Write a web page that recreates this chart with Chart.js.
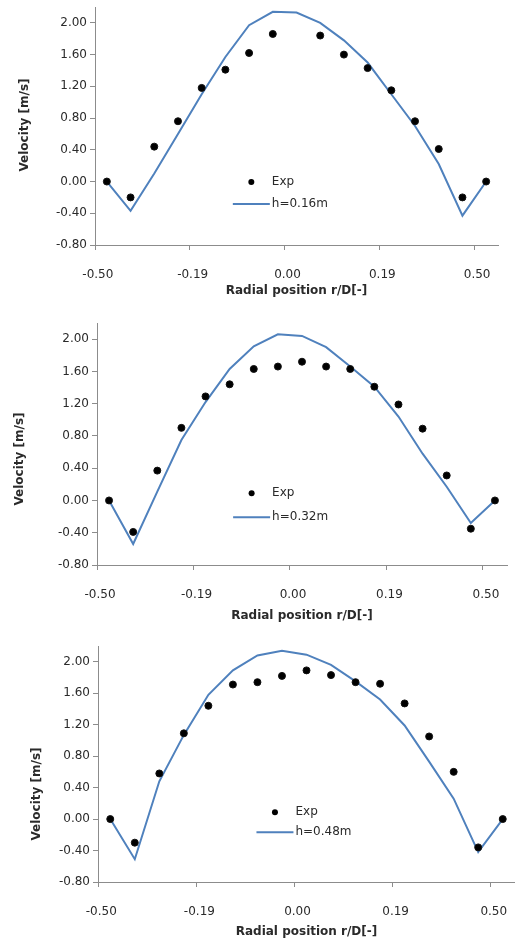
<!DOCTYPE html>
<html>
<head>
<meta charset="utf-8">
<script src="https://cdn.jsdelivr.net/npm/chart.js@4.4.0/dist/chart.umd.min.js"></script>
<style>
  html, body { margin: 0; padding: 0; background: #fff; overflow: hidden; }
  .panel { position: absolute; left: 0; width: 515px; }
</style>
</head>
<body>
<div class="panel" style="top:0;height:310px"><canvas id="c1"></canvas></div>
<div class="panel" style="top:310px;height:320px"><canvas id="c2"></canvas></div>
<div class="panel" style="top:630px;height:313px"><canvas id="c3"></canvas></div>
<script>
// categories (only every 4th one is labelled on the original axis)
var radialLabels = ['-0.50', '', '', '', '-0.19', '', '', '', '0.00', '', '', '', '0.19', '', '', '', '0.50'];
var velocityTicks = [-0.8, -0.4, 0, 0.4, 0.8, 1.2, 1.6, 2.0];

// h = 0.16m
var exp016 = [0.00, -0.20, 0.44, 0.76, 1.18, 1.41, 1.62, 1.86, null, 1.84, 1.60, 1.43, 1.15, 0.76, 0.41, -0.20, 0.00];
var sim016 = [0.00, -0.37, 0.10, 0.60, 1.10, 1.57, 1.97, 2.14, 2.13, 2.00, 1.78, 1.50, 1.10, 0.70, 0.22, -0.43, 0.00];
// h = 0.32m
var exp032 = [0.00, -0.39, 0.37, 0.90, 1.29, 1.44, 1.63, 1.66, 1.72, 1.66, 1.63, 1.41, 1.19, 0.89, 0.31, -0.35, 0.00];
var sim032 = [0.00, -0.54, 0.11, 0.75, 1.22, 1.63, 1.91, 2.06, 2.04, 1.90, 1.66, 1.41, 1.04, 0.58, 0.17, -0.28, 0.00];
// h = 0.48m
var exp048 = [0.00, -0.30, 0.58, 1.09, 1.44, 1.71, 1.74, 1.82, 1.89, 1.83, 1.74, 1.72, 1.47, 1.05, 0.60, -0.36, 0.00];
var sim048 = [0.00, -0.51, 0.48, 1.07, 1.58, 1.89, 2.08, 2.14, 2.09, 1.96, 1.75, 1.52, 1.19, 0.73, 0.26, -0.42, 0.00];

var FONT = '"DejaVu Sans", Verdana, sans-serif';
var axisGray = '#8c8c8c';
var textColor = '#2a2a2a';
var lineBlue = '#4F81BD';

// legend drawn inside the plot area, like the excel one
var insideLegend = {
  id: 'insideLegend',
  afterDraw: function (chart, args, opts) {
    var ctx = chart.ctx, a = chart.chartArea;
    var x0 = a.left + opts.x * (a.right - a.left);
    var y = a.top + opts.y * (a.bottom - a.top);
    ctx.save();
    ctx.font = '12px ' + FONT;
    ctx.textBaseline = 'middle';
    chart.data.datasets.forEach(function (ds) {
      if (ds.showLine === false) {
        ctx.beginPath();
        ctx.arc(x0 + opts.w / 2, y, 3, 0, Math.PI * 2);
        ctx.fillStyle = ds.pointBackgroundColor;
        ctx.fill();
      } else {
        ctx.beginPath();
        ctx.moveTo(x0, y);
        ctx.lineTo(x0 + opts.w, y);
        ctx.strokeStyle = ds.borderColor;
        ctx.lineWidth = ds.borderWidth;
        ctx.stroke();
      }
      ctx.fillStyle = textColor;
      ctx.fillText(ds.label, x0 + opts.w + 2, y);
      y += opts.gap;
    });
    ctx.restore();
  }
};

// vertical axis title, excel puts it a bit off-centre on the lower panels
var yTitle = {
  id: 'yTitle',
  afterDraw: function (chart, args, opts) {
    var ctx = chart.ctx, a = chart.chartArea;
    ctx.save();
    ctx.translate(opts.x, (a.top + a.bottom) / 2 + opts.dy);
    ctx.rotate(-Math.PI / 2);
    ctx.font = 'bold 12px ' + FONT;
    ctx.fillStyle = textColor;
    ctx.textAlign = 'center';
    ctx.textBaseline = 'middle';
    ctx.fillText(opts.text, 0, 0);
    ctx.restore();
  }
};

function makeChart(id, expData, simData, simName, L) {
  return new Chart(document.getElementById(id), {
    type: 'line',
    plugins: [insideLegend, yTitle],
    data: {
      labels: radialLabels,
      datasets: [{
        label: 'Exp',
        data: expData,
        showLine: false,
        pointRadius: 3.5,
        pointBackgroundColor: '#000',
        pointBorderColor: '#111',
        pointBorderWidth: 1
      }, {
        label: simName,
        data: simData,
        borderColor: lineBlue,
        borderWidth: 2,
        tension: 0,
        pointRadius: 0,
        fill: false
      }]
    },
    options: {
      responsive: true,
      maintainAspectRatio: false,
      animation: false,
      layout: { autoPadding: false, padding: { top: L.top, right: L.right, left: 0, bottom: 0 } },
      plugins: {
        legend: { display: false },
        tooltip: { enabled: false },
        insideLegend: { x: L.legX, y: L.legY, gap: L.legGap, w: 37 },
        yTitle: { text: 'Velocity [m/s]', x: L.yTitleX, dy: L.yTitleDy }
      },
      scales: {
        x: {
          type: 'category',
          offset: true,
          grid: {
            offset: true,
            drawOnChartArea: false,
            tickLength: 5,
            color: function (c) {
              return (c.index !== undefined && c.index % 4 === 0) ? axisGray : 'rgba(0,0,0,0)';
            }
          },
          border: { color: axisGray, width: 1 },
          ticks: {
            autoSkip: false, maxRotation: 0, minRotation: 0,
            padding: 18, labelOffset: -9,
            color: textColor, font: { family: FONT, size: 12 }
          },
          title: {
            display: true, text: 'Radial position r/D[-]', color: textColor,
            font: { family: FONT, size: 12, weight: 'bold' },
            padding: { top: 0, bottom: L.xTitlePad }
          },
          afterFit: function (s) {
            s.height = L.xHeight;
            s.paddingLeft = 0;
            s.paddingRight = 0;
          }
        },
        y: {
          min: -0.8,
          max: 2.2,
          afterBuildTicks: function (s) {
            s.ticks = velocityTicks.map(function (v) { return { value: v }; });
          },
          grid: { drawOnChartArea: false, tickLength: 5, color: axisGray },
          border: { color: axisGray, width: 1 },
          ticks: {
            padding: 3, color: textColor, font: { family: FONT, size: 12 },
            callback: function (v) { return Number(v).toFixed(2); }
          },
          afterFit: function (s) {
            s.width = L.yWidth;
            s.paddingTop = 0;
            s.paddingBottom = 0;
          }
        }
      }
    }
  });
}

makeChart('c1', exp016, sim016, 'h=0.16m', {
  top: 7, right: 17, yWidth: 95, xHeight: 65, xTitlePad: 12,
  legX: 0.342, legY: 0.735, legGap: 22, yTitleX: 25, yTitleDy: -1
});
makeChart('c2', exp032, sim032, 'h=0.32m', {
  top: 13, right: 8, yWidth: 97, xHeight: 65, xTitlePad: 7,
  legX: 0.332, legY: 0.703, legGap: 24, yTitleX: 20, yTitleDy: 15
});
makeChart('c3', exp048, sim048, 'h=0.48m', {
  top: 16, right: 0, yWidth: 98, xHeight: 61, xTitlePad: 4,
  legX: 0.38, legY: 0.704, legGap: 20, yTitleX: 37, yTitleDy: 30
});
</script>
</body>
</html>
